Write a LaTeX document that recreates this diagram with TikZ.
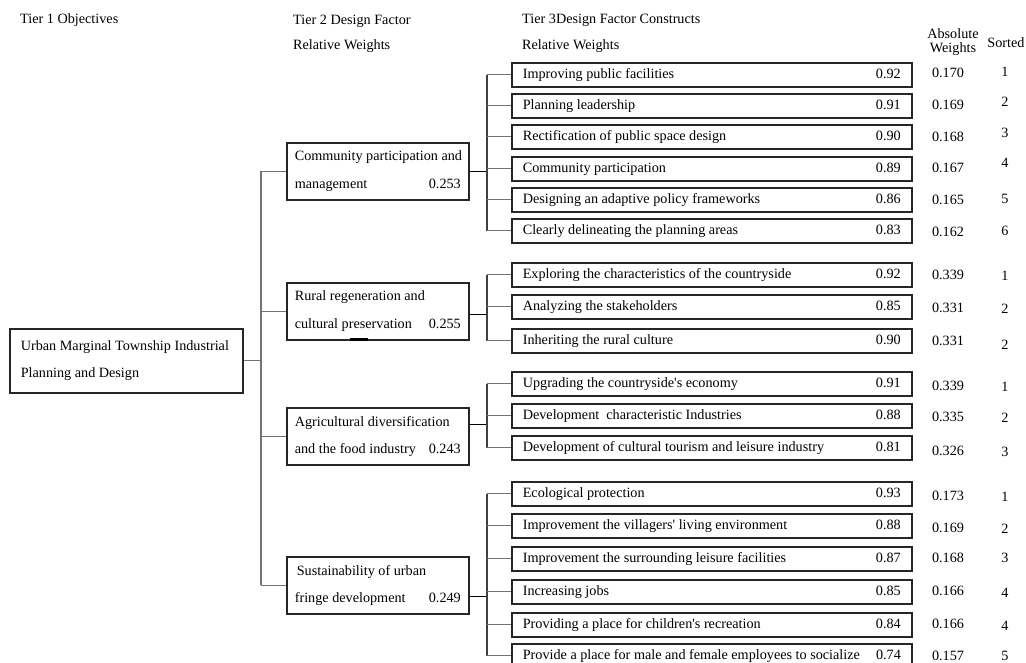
\documentclass[tikz,border=0pt]{standalone}
\usepackage{fontspec}
\setmainfont{Liberation Serif}[Ligatures=TeXOff]
\begin{document}
\begin{tikzpicture}[x=1pt,y=-1pt,
  every node/.style={font=\fontsize{14.2}{17}\selectfont},
  hdr/.style={anchor=west, inner sep=0pt, text height=10pt, text depth=3pt},
  num/.style={anchor=center, inner sep=0pt},
  tbox/.style={draw=black!85, line width=1.6pt, anchor=north west, minimum height=24pt,
    inner xsep=11pt, inner ysep=0pt, text height=10pt, text depth=3.5pt},
  sbox/.style={draw=black!85, line width=1.6pt, anchor=north west, minimum height=57pt,
    inner xsep=8pt, inner ysep=0pt, align=left, font=\fontsize{14.2}{27.5}\selectfont},
  rbox/.style={draw=black!85, line width=1.6pt, anchor=north west, minimum height=64pt,
    inner xsep=11pt, inner ysep=0pt, align=left, font=\fontsize{14.2}{26.5}\selectfont},
  conn/.style={draw=black!55, line width=1.2pt},
  vline/.style={draw=black!75, line width=1.3pt},
  hconn/.style={draw=black, line width=1.6pt}
]
\useasboundingbox (0,0) rectangle (1026,662);
\clip (0,0) rectangle (1026,662);
\fill[white] (0,0) rectangle (1026,662);

% headers
\node[hdr] (h1) at (20,20) {Tier 1 Objectives};
\node[hdr] (h2a) at (293,21) {Tier 2 Design Factor};
\node[hdr] (h2b) at (293,46) {Relative Weights};
\node[hdr] (h3a) at (522,20) {Tier 3Design Factor Constructs};
\node[hdr] (h3b) at (522,46) {Relative Weights};
\node[num, align=center, font=\fontsize{14.2}{14.5}\selectfont] (habs) at (953,42) {Absolute\\Weights};
\node[num] (hsort) at (1006,43) {Sorted};

% tier 1
\node[rbox] (t1) at (9,328) {\makebox[211pt][l]{Urban Marginal Township Industrial}\\\makebox[211pt][l]{Planning and Design}};

% tier 2
\node[sbox] (t2a) at (286,142) {\makebox[166pt][l]{Community participation and}\\\makebox[166pt][l]{management\hfill 0.253}};
\node[sbox] (t2b) at (286,282) {\makebox[166pt][l]{Rural regeneration and}\\\makebox[166pt][l]{cultural preservation\hfill 0.255}};
\node[sbox] (t2c) at (286,407) {\makebox[166pt][l]{Agricultural diversification}\\\makebox[166pt][l]{and the food industry\hfill 0.243}};
\node[sbox] (t2d) at (286,556) {\makebox[166pt][l]{\hspace{2pt}Sustainability of urban}\\\makebox[166pt][l]{fringe development\hfill 0.249}};
\draw[line width=3pt] (350,339) -- (368,339);

% tier 3 group 1
\node[tbox] (b11) at (511,62) {\makebox[378pt][l]{Improving public facilities\hfill 0.92}};
\node[tbox] (b12) at (511,93) {\makebox[378pt][l]{Planning leadership\hfill 0.91}};
\node[tbox] (b13) at (511,124) {\makebox[378pt][l]{Rectification of public space design\hfill 0.90}};
\node[tbox] (b14) at (511,156) {\makebox[378pt][l]{Community participation\hfill 0.89}};
\node[tbox] (b15) at (511,187) {\makebox[378pt][l]{Designing an adaptive policy frameworks\hfill 0.86}};
\node[tbox] (b16) at (511,218) {\makebox[378pt][l]{Clearly delineating the planning areas\hfill 0.83}};
% group 2
\node[tbox] (b21) at (511,262) {\makebox[378pt][l]{Exploring the characteristics of the countryside\hfill 0.92}};
\node[tbox] (b22) at (511,294) {\makebox[378pt][l]{Analyzing the stakeholders\hfill 0.85}};
\node[tbox] (b23) at (511,328) {\makebox[378pt][l]{Inheriting the rural culture\hfill 0.90}};
% group 3
\node[tbox] (b31) at (511,371) {\makebox[378pt][l]{Upgrading the countryside's economy\hfill 0.91}};
\node[tbox] (b32) at (511,403) {\makebox[378pt][l]{Development~ characteristic Industries\hfill 0.88}};
\node[tbox] (b33) at (511,435) {\makebox[378pt][l]{Development of cultural tourism and leisure industry\hfill 0.81}};
% group 4
\node[tbox] (b41) at (511,481) {\makebox[378pt][l]{Ecological protection\hfill 0.93}};
\node[tbox] (b42) at (511,513) {\makebox[378pt][l]{Improvement the villagers' living environment\hfill 0.88}};
\node[tbox] (b43) at (511,546) {\makebox[378pt][l]{Improvement the surrounding leisure facilities\hfill 0.87}};
\node[tbox] (b44) at (511,579) {\makebox[378pt][l]{Increasing jobs\hfill 0.85}};
\node[tbox] (b45) at (511,612) {\makebox[378pt][l]{Providing a place for children's recreation\hfill 0.84}};
\node[tbox] (b46) at (511,643) {\makebox[378pt][l]{Provide a place for male and female employees to socialize\hfill 0.74}};

% absolute weights and sorted
\foreach \n/\v/\ya/\s/\ys in {a11/0.170/73/1/72, a12/0.169/105/2/102, a13/0.168/137/3/133,
  a14/0.167/168/4/163, a15/0.165/200/5/199, a16/0.162/232/6/231,
  a21/0.339/275/1/276, a22/0.331/308/2/309, a23/0.331/341/2/345,
  a31/0.339/386/1/387, a32/0.335/417/2/418, a33/0.326/451/3/452,
  a41/0.173/496/1/497, a42/0.169/528/2/529, a43/0.168/558/3/558,
  a44/0.166/591/4/593, a45/0.166/624/4/626, a46/0.157/656/5/656}{
  \node[num] (\n) at (948,\ya) {\v};
  \node[num] (s\n) at (1005,\ys) {\s};
}

% trunk
\coordinate (trunk) at (261,0);
\coordinate (brk) at (487,0);
\draw[conn] (t1.east) -- (t1.east -| trunk);
\draw[conn] (t2a.west -| trunk) -- (t2d.west -| trunk);
\foreach \b in {t2a,t2b,t2c,t2d}{
  \draw[conn] (\b.west -| trunk) -- (\b.west);
}

% group brackets
\draw[hconn] (t2a.east) -- (t2a.east -| brk);
\draw[hconn] ([yshift=-3pt]t2b.east) -- ([yshift=-3pt]t2b.east -| brk);
\draw[hconn] ([yshift=12pt]t2c.east) -- ([yshift=12pt]t2c.east -| brk);
\draw[hconn] ([yshift=-11pt]t2d.east) -- ([yshift=-11pt]t2d.east -| brk);

\draw[vline] (b11.west -| brk) -- (b16.west -| brk);
\draw[vline] (b21.west -| brk) -- (b23.west -| brk);
\draw[vline] (b31.west -| brk) -- (b33.west -| brk);
\draw[vline] (b41.west -| brk) -- (b46.west -| brk);
\foreach \b in {b11,b12,b13,b14,b15,b16,b21,b22,b23,b31,b32,b33,b41,b42,b43,b44,b45,b46}{
  \draw[conn] (\b.west -| brk) -- (\b.west);
}
\end{tikzpicture}
\end{document}
